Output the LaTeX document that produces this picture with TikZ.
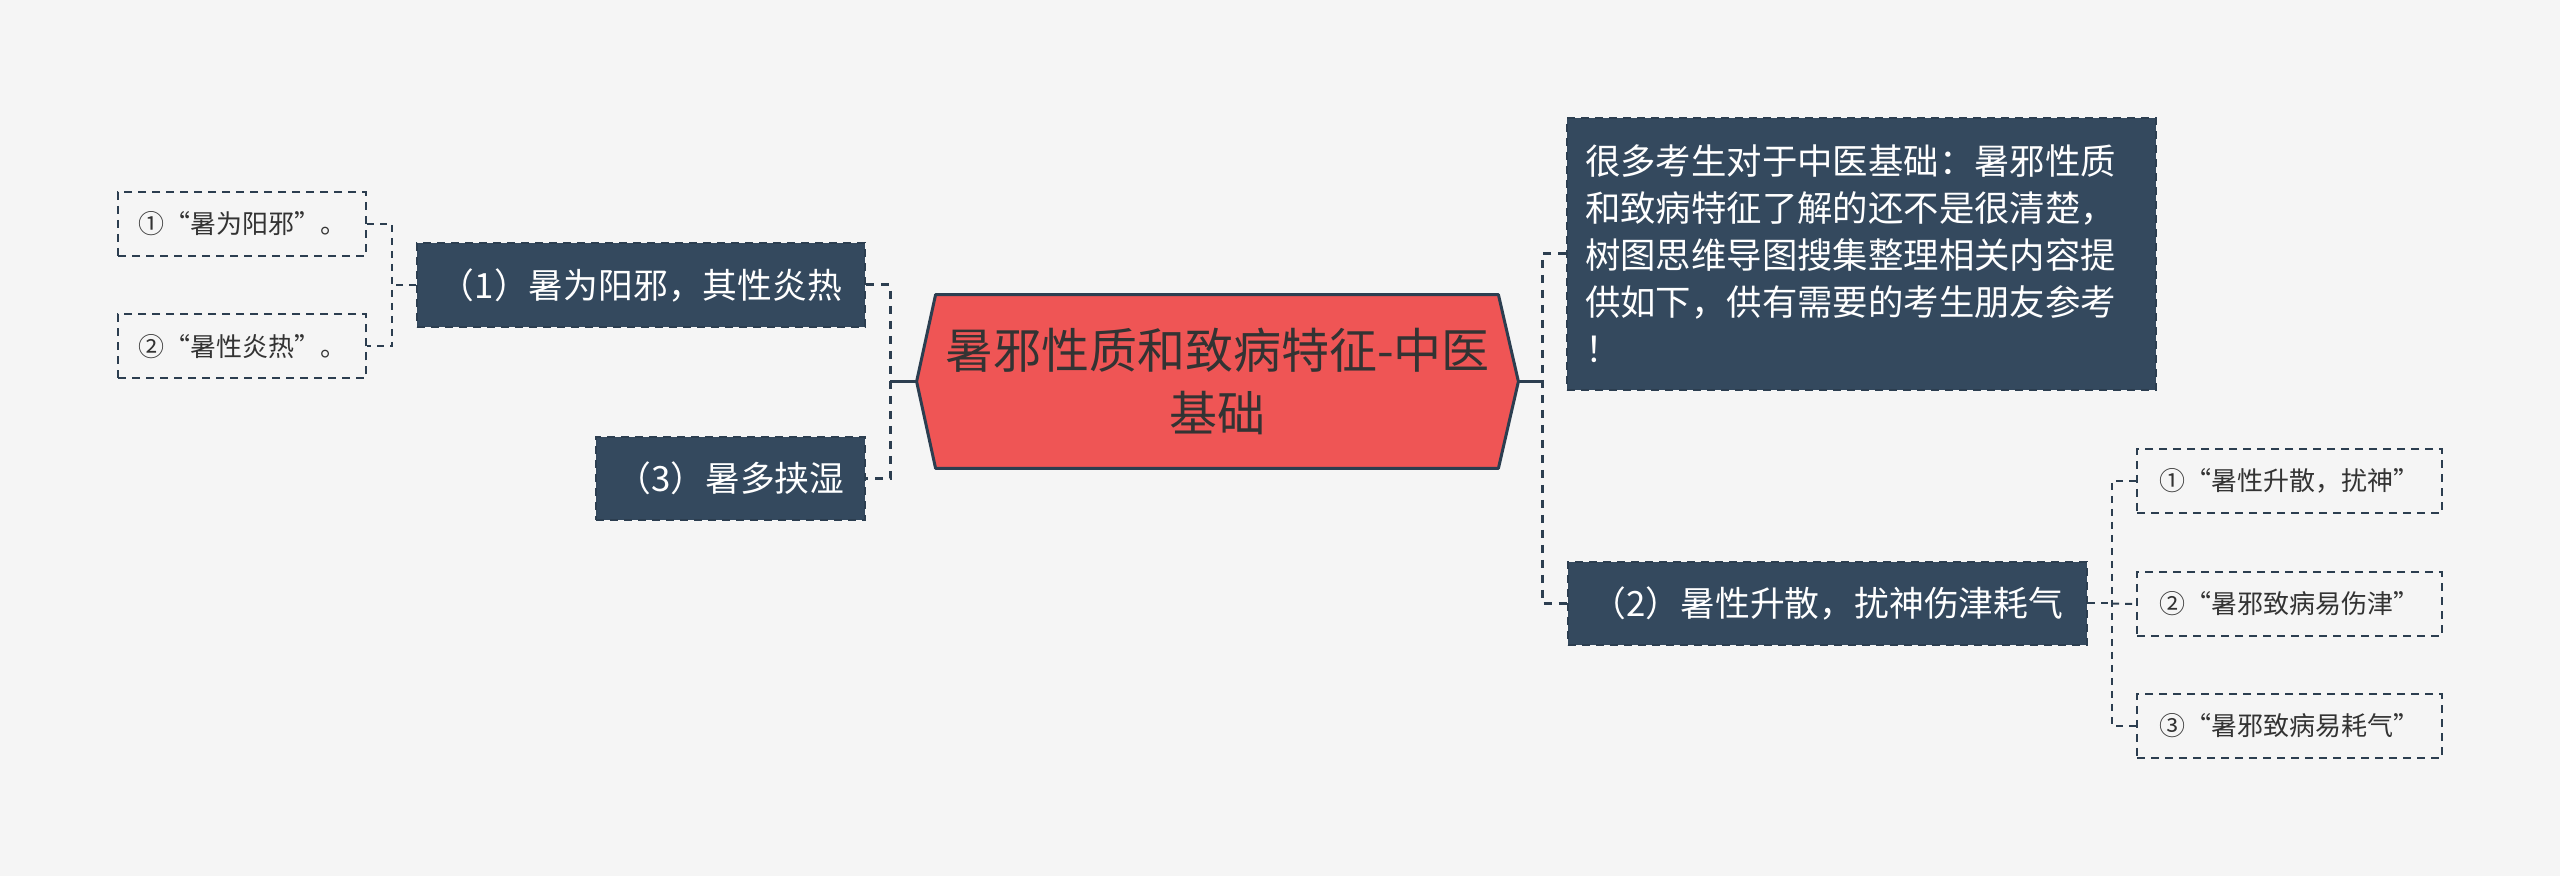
\documentclass[tikz,border=0pt]{standalone}
\usepackage{fontspec}
\setmainfont{Noto Sans CJK SC}
\usetikzlibrary{calc}
\definecolor{bg}{HTML}{F5F5F5}
\definecolor{dark}{HTML}{34495E}
\definecolor{darkline}{HTML}{2C3E50}
\definecolor{centralfill}{HTML}{EF5555}
\definecolor{txt}{HTML}{333333}
\tikzset{
  x=0.5pt, y=-0.5pt,
  darkbox/.style={fill=dark, draw=darkline, line width=1pt, dash pattern=on 4pt off 3pt,
    text=white, font=\fontsize{17.4pt}{21pt}\selectfont, inner sep=0pt, anchor=center},
  leafbox/.style={fill=bg, draw=darkline, line width=1pt, dash pattern=on 4pt off 3pt,
    text=txt, font=\fontsize{13pt}{16pt}\selectfont, inner sep=0pt, anchor=center,
    minimum height=32pt},
  conn/.style={draw=darkline, line width=1.5pt, dash pattern=on 4pt off 3.5pt},
  leafconn/.style={draw=darkline, line width=1pt, dash pattern=on 3.5pt off 3pt},
  solidconn/.style={draw=darkline, line width=1.5pt},
}
\begin{document}
\begin{tikzpicture}
\fill[bg] (0,0) rectangle (2560,876);
\useasboundingbox (0,0) rectangle (2560,876);

% central node
\node[minimum width=300.5pt, minimum height=86.5pt, inner sep=0pt] (c) at (1217.5,381.5) {};
\filldraw[fill=centralfill, draw=darkline, line width=1.5pt, line join=round]
  (c.west) -- ($(c.north west)+(19,0)$) -- ($(c.north east)+(-20,0)$) -- (c.east)
  -- ($(c.south east)+(-20,0)$) -- ($(c.south west)+(19,0)$) -- cycle;
\node[align=center, text=txt, font=\fontsize{24pt}{31.5pt}\selectfont] (ct) at (c.center)
  {暑邪性质和致病特征-中医\\基础};

% left branch
\node[darkbox, minimum width=224pt, minimum height=42pt] (n1) at (641,285) {（1）暑为阳邪，其性炎热};
\node[darkbox, minimum width=134.5pt, minimum height=41.5pt] (n3) at (730.5,478.5) {（3）暑多挟湿};
\node[leafbox, minimum width=124pt] (l1) at (242,224) {①“暑为阳邪”。};
\node[leafbox, minimum width=124pt] (l2) at (242,346.5) {②“暑性炎热”。};

% right branch
\node[darkbox, text width=276.5pt, inner xsep=9pt, inner ysep=0pt, minimum height=136pt, align=left,
  font=\fontsize{17.7pt}{23.5pt}\selectfont] (t) at (1861.5,254)
  {很多考生对于中医基础：暑邪性质\\和致病特征了解的还不是很清楚，\\树图思维导图搜集整理相关内容提\\供如下，供有需要的考生朋友参考\\！};
\node[darkbox, minimum width=259.5pt, minimum height=41.5pt] (n2) at (1827.5,603.5) {（2）暑性升散，扰神伤津耗气};
\node[leafbox, minimum width=152.5pt] (r1) at (2289.5,481) {①“暑性升散，扰神”};
\node[leafbox, minimum width=152.5pt] (r2) at (2289.5,604) {②“暑邪致病易伤津”};
\node[leafbox, minimum width=152.5pt] (r3) at (2289.5,726) {③“暑邪致病易耗气”};

% connectors
\coordinate (lb) at (890,381.5);
\coordinate (rb) at (1542,381.5);
\coordinate (lb1) at (392,285);
\coordinate (rb2) at (2112,603.5);

\draw[solidconn] (c.west) -- (lb);
\draw[conn] (n1.east) -| (lb) |- (n3.east);
\draw[solidconn] (c.east) -- (rb);
\draw[conn] (t.west) -| (rb) |- (n2.west);

\draw[leafconn] (n1.west) -- (lb1);
\draw[leafconn] (l1.east) -| (lb1) |- (l2.east);

\draw[leafconn] (n2.east) -- (rb2);
\draw[leafconn] (r1.west) -| (rb2) |- (r3.west);
\draw[leafconn] (rb2) -- (r2.west);
\end{tikzpicture}
\end{document}
